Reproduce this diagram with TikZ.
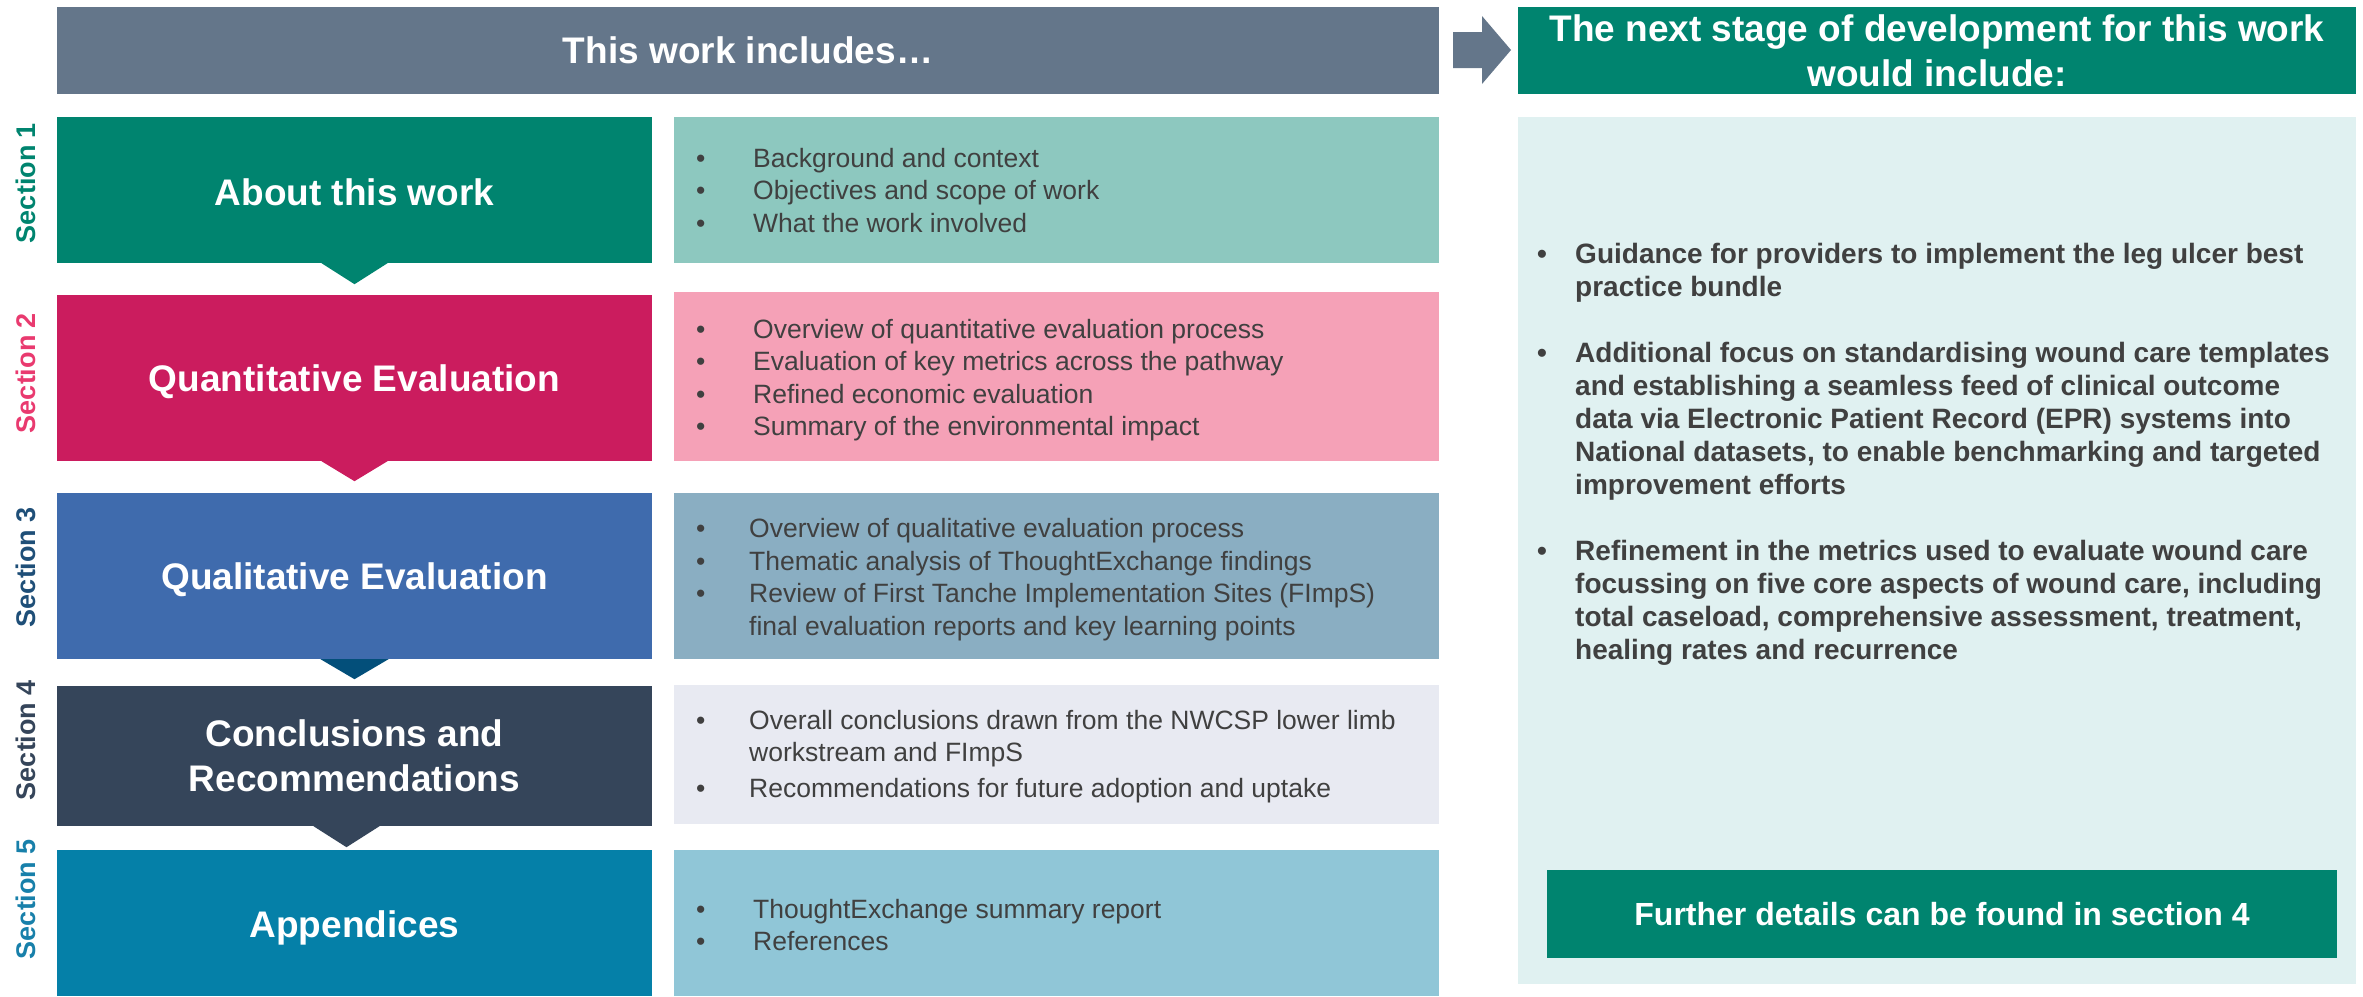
\documentclass[tikz,border=0pt]{standalone}
\usepackage{fontspec}
\setmainfont{Liberation Sans}
\usepackage{array}
\definecolor{hdr}{HTML}{64768A}
\definecolor{cA}{HTML}{00846F}
\definecolor{tA}{HTML}{8DC8BF}
\definecolor{cB}{HTML}{CB1C5E}
\definecolor{tB}{HTML}{F5A1B7}
\definecolor{cC}{HTML}{3F6BAD}
\definecolor{tC}{HTML}{8AAEC2}
\definecolor{triC}{HTML}{034F7A}
\definecolor{cD}{HTML}{35455A}
\definecolor{tD}{HTML}{E8EAF2}
\definecolor{cE}{HTML}{0580A8}
\definecolor{tE}{HTML}{90C6D7}
\definecolor{panel}{HTML}{E0F1F1}
\definecolor{lA}{HTML}{00846F}
\definecolor{lB}{HTML}{E93A6F}
\definecolor{lC}{HTML}{1F4F78}
\definecolor{lD}{HTML}{35455A}
\definecolor{lE}{HTML}{1880AA}
\definecolor{bodygray}{HTML}{404040}
\begin{document}
\begin{tikzpicture}[x=1pt,y=-1pt,
  secbox/.style={rectangle, inner sep=0pt, minimum width=595pt},
  sectext/.style={inner sep=0pt, text=white, align=center, font=\fontsize{37}{45}\selectfont\bfseries},
  txtbox/.style={rectangle, inner sep=0pt, minimum width=765pt, anchor=north west},
  bodytxt/.style={inner sep=0pt, anchor=west, text=bodygray, font=\fontsize{26.5}{32.5}\selectfont},
  seclabel/.style={rotate=90, anchor=base, inner sep=0pt, font=\fontsize{27}{32}\selectfont\bfseries},
  hdrbox/.style={rectangle, inner sep=0pt, text=white, align=center, font=\fontsize{37}{44}\selectfont\bfseries}
]
\useasboundingbox (0,0) rectangle (2363,996);

% headers
\node[hdrbox, fill=hdr, minimum width=1382pt, minimum height=87pt] (hL) at (748,50.5) {This work includes…};
\node[hdrbox, fill=cA, minimum width=838pt, minimum height=87pt] (hR) at (1937,50.5) {The next stage of development for this work\\[1pt]would include:};
\fill[hdr] (1453,32) -- (1482,32) -- (1482,16) -- (1511,50) -- (1482,84) -- (1482,68) -- (1453,68) -- cycle;

% section boxes
\node[secbox, fill=cA, minimum height=146pt] (s1) at (354.5,190) {};
\node[secbox, fill=cB, minimum height=166pt] (s2) at (354.5,378) {};
\node[secbox, fill=cC, minimum height=166pt] (s3) at (354.5,576) {};
\node[secbox, fill=cD, minimum height=140pt] (s4) at (354.5,756) {};
\node[secbox, fill=cE, minimum height=146pt] (s5) at (354.5,923) {};
\node[sectext] (s1t) at ([yshift=-2pt]s1.center) {About this work};
\node[sectext] (s2t) at ([yshift=-4pt]s2.center) {Quantitative Evaluation};
\node[sectext] (s3t) at ([yshift=-4pt]s3.center) {Qualitative Evaluation};
\node[sectext] (s4t) at (s4.center) {Conclusions and\\Recommendations};
\node[sectext] (s5t) at ([yshift=-5pt]s5.center) {Appendices};

% pointers
\fill[cA] ([xshift=-33pt]s1.south) -- ([xshift=33pt]s1.south) -- ([yshift=-21pt]s1.south) -- cycle;
\fill[cB] ([xshift=-33pt]s2.south) -- ([xshift=33pt]s2.south) -- ([yshift=-20pt]s2.south) -- cycle;
\fill[triC] ([xshift=-34pt]s3.south) -- ([xshift=34pt]s3.south) -- ([yshift=-20pt]s3.south) -- cycle;
\fill[cD] ([xshift=-41pt]s4.south) -- ([xshift=25pt]s4.south) -- ([xshift=-8pt,yshift=-21pt]s4.south) -- cycle;

% section labels
\node[seclabel, text=lA] (l1) at (35,183) {Section 1};
\node[seclabel, text=lB] (l2) at (35,373) {Section 2};
\node[seclabel, text=lC] (l3) at (35,567) {Section 3};
\node[seclabel, text=lD] (l4) at (35,740) {Section 4};
\node[seclabel, text=lE] (l5) at (35,899) {Section 5};

% text boxes
\node[txtbox, fill=tA, minimum height=146pt] (t1) at (674,117) {};
\node[txtbox, fill=tB, minimum height=169pt] (t2) at (674,292) {};
\node[txtbox, fill=tC, minimum height=166pt] (t3) at (674,493) {};
\node[txtbox, fill=tD, minimum height=139pt] (t4) at (674,685) {};
\node[txtbox, fill=tE, minimum height=146pt] (t5) at (674,850) {};

\node[bodytxt] (x1) at ([xshift=22pt,yshift=-3pt]t1.west) {\begin{tabular}{@{}p{57pt}@{}l@{}}
\textbullet & Background and context\\
\textbullet & Objectives and scope of work\\
\textbullet & What the work involved
\end{tabular}};
\node[bodytxt] (x2) at ([xshift=22pt,yshift=-4pt]t2.west) {\begin{tabular}{@{}p{57pt}@{}l@{}}
\textbullet & Overview of quantitative evaluation process\\
\textbullet & Evaluation of key metrics across the pathway\\
\textbullet & Refined economic evaluation\\
\textbullet & Summary of the environmental impact
\end{tabular}};
\node[bodytxt] (x3) at ([xshift=22pt,yshift=-4pt]t3.west) {\begin{tabular}{@{}p{53pt}@{}l@{}}
\textbullet & Overview of qualitative evaluation process\\
\textbullet & Thematic analysis of ThoughtExchange findings\\
\textbullet & Review of First Tanche Implementation Sites (FImpS)\\
 & final evaluation reports and key learning points
\end{tabular}};
\node[bodytxt] (x4) at ([xshift=22pt,yshift=-2pt]t4.west) {\begin{tabular}{@{}p{53pt}@{}l@{}}
\textbullet & Overall conclusions drawn from the NWCSP lower limb\\
 & workstream and FImpS\\[3pt]
\textbullet & Recommendations for future adoption and uptake
\end{tabular}};
\node[bodytxt] (x5) at ([xshift=22pt,yshift=-5pt]t5.west) {\begin{tabular}{@{}p{57pt}@{}l@{}}
\textbullet & ThoughtExchange summary report\\
\textbullet & References
\end{tabular}};

% right panel
\node[rectangle, inner sep=0pt, anchor=north west, fill=panel, minimum width=838pt, minimum height=867pt] (pn) at (1518,117) {};
\node[inner sep=0pt, anchor=west, text=bodygray, font=\fontsize{28}{33}\selectfont\bfseries] (px) at (1537,455) {\begin{tabular}{@{}p{38pt}@{}l@{}}
\textbullet & Guidance for providers to implement the leg ulcer best\\
 & practice bundle\\
 & \\
\textbullet & Additional focus on standardising wound care templates\\
 & and establishing a seamless feed of clinical outcome\\
 & data via Electronic Patient Record (EPR) systems into\\
 & National datasets, to enable benchmarking and targeted\\
 & improvement efforts\\
 & \\
\textbullet & Refinement in the metrics used to evaluate wound care\\
 & focussing on five core aspects of wound care, including\\
 & total caseload, comprehensive assessment, treatment,\\
 & healing rates and recurrence
\end{tabular}};
\node[rectangle, inner sep=0pt, fill=cA, text=white, minimum width=790pt, minimum height=88pt,
  font=\fontsize{32}{38}\selectfont\bfseries] (fd) at (1942,914) {Further details can be found in section 4};
\end{tikzpicture}
\end{document}
